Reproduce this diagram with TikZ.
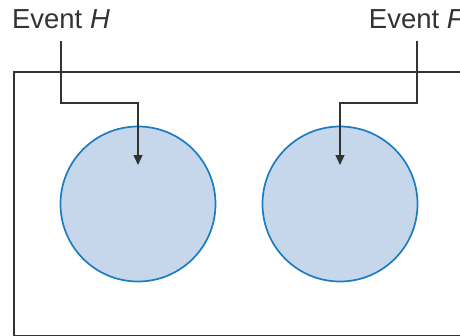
\documentclass[tikz,border=0pt]{standalone}
\usepackage{fontspec}
\setmainfont{Liberation Sans}
\usetikzlibrary{arrows.meta}
\definecolor{ink}{HTML}{333333}
\definecolor{cfill}{HTML}{C6D7EC}
\definecolor{cline}{HTML}{1C7CC2}
\tikzset{
  lbl/.style={font=\fontsize{27.5}{32}\selectfont, text=ink, inner sep=0pt, anchor=base},
  evcircle/.style={circle, draw=cline, fill=cfill, line width=1.7pt, minimum size=155pt, inner sep=0pt},
  arr/.style={draw=ink, line width=1.3pt, -{Triangle[width=9pt,length=10pt]}},
  frame/.style={draw=ink, line width=1.5pt}
}
\begin{document}
\begin{tikzpicture}[x=1pt,y=1pt]
\useasboundingbox (0,0) rectangle (460,-335);
\begin{scope}
\clip (0,0) rectangle (460,-335);
\draw[frame] (14,-72) rectangle (480,-335.4);
\node[lbl] (evH) at (61,-28) {Event \textit{H}};
\node[lbl] (evF) at (417,-28) {Event \textit{F}};
\node[evcircle] (cH) at (138,-204) {};
\node[evcircle] (cF) at (340,-204) {};
\coordinate (hs) at (61,-41);
\coordinate (hk) at (138,-103);
\coordinate (fs) at (417,-41);
\coordinate (fk) at (340,-103);
\draw[arr] (hs) |- (hk) -- ([yshift=39pt]cH.center);
\draw[arr] (fs) |- (fk) -- ([yshift=39pt]cF.center);
\end{scope}
\end{tikzpicture}
\end{document}
